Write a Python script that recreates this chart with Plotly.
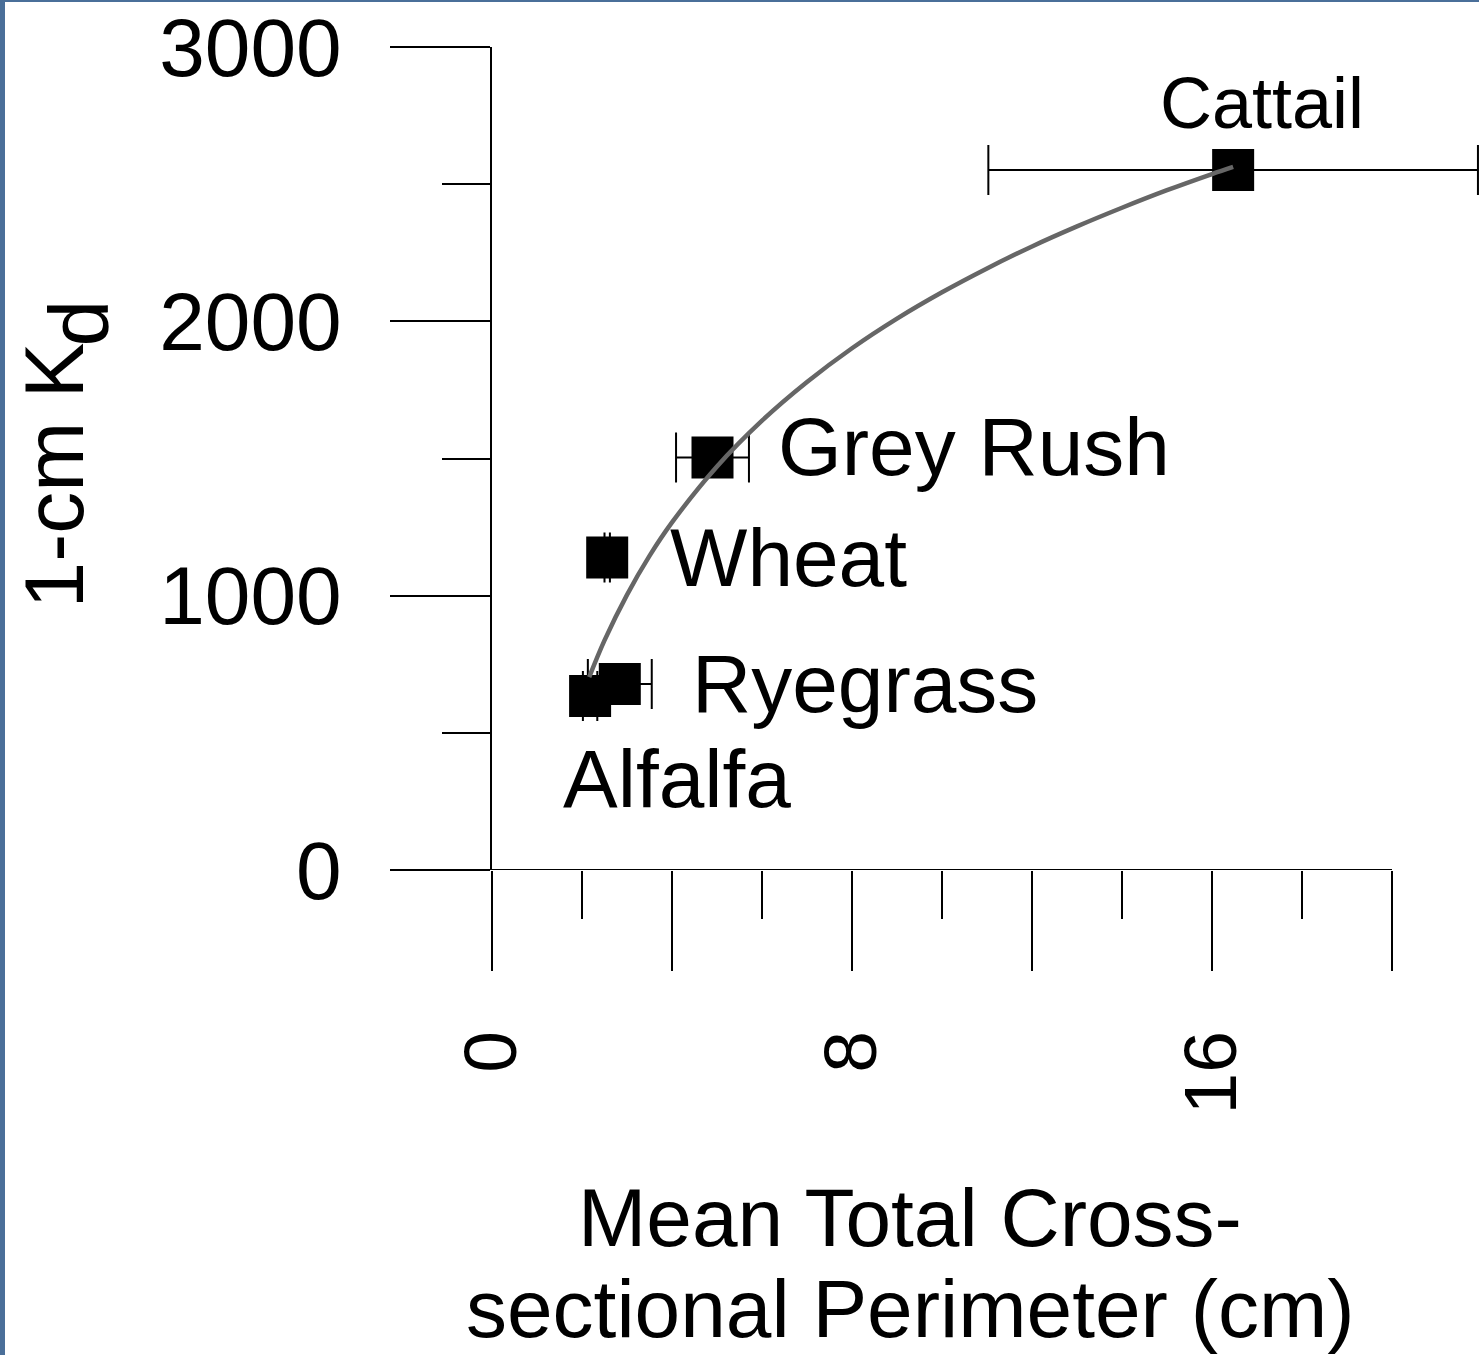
import plotly.graph_objects as go

# ---- data ----
species = ["Cattail", "Grey Rush", "Wheat", "Ryegrass", "Alfalfa"]
perimeter_cm = [16.47, 4.90, 2.56, 2.84, 2.18]
perimeter_err = [5.44, 0.81, 0.06, 0.71, 0.16]
kd_1cm = [2552, 1504, 1139, 678, 634]

# trend curve points
trend_x = [2.16, 2.5, 3.0, 3.5, 4.0, 5.0, 6.0, 7.0, 8.0, 9.0, 10.0, 11.0, 12.0, 13.0, 14.0, 15.0, 16.0, 16.47]
trend_y = [703, 837, 1003, 1145, 1267, 1471, 1638, 1779, 1902, 2010, 2106, 2193, 2273, 2346, 2414, 2478, 2537, 2563]

x_major = [0, 4, 8, 12, 16, 20]
x_major_text = ["0", "", "8", "", "16", ""]
x_minor = [2, 6, 10, 14, 18]
y_major = [0, 1000, 2000, 3000]
y_minor = [500, 1500, 2500]

FONT = "Liberation Sans, Arial, sans-serif"

W, H = 1479, 1355
L, T, B = 492, 47, 870  # plot area pixel edges
XPX = 45.0              # px per x unit
YPX = (B - T) / 3000.0  # px per y unit


def px_x(p):
    return (p - L) / XPX


def px_y(p):
    return (B - p) / YPX


fig = go.Figure()

fig.add_trace(go.Scatter(
    x=perimeter_cm, y=kd_1cm, mode="markers",
    marker=dict(symbol="square", size=42, color="black", line=dict(width=0)),
    error_x=dict(type="data", array=perimeter_err, visible=True,
                 color="black", thickness=2, width=25),
    showlegend=False, hoverinfo="skip",
))

fig.add_trace(go.Scatter(
    x=trend_x, y=trend_y, mode="lines",
    line=dict(color="#666666", width=4.5, shape="spline"),
    showlegend=False, hoverinfo="skip",
))

# data labels
label_pos = {
    "Cattail": (1262, 103, 72),
    "Grey Rush": (974, 446, 82),
    "Wheat": (788, 557, 82),
    "Ryegrass": (865, 683, 82),
    "Alfalfa": (677, 778, 82),
}
annotations = []
for name in species:
    px, py, fs = label_pos[name]
    annotations.append(dict(
        x=px_x(px), y=px_y(py), xref="x", yref="y", text=name, showarrow=False,
        xanchor="center", yanchor="middle", font=dict(family=FONT, size=fs, color="black"),
    ))

# axis titles
annotations.append(dict(
    x=53.5 / W, y=1 - 476 / H, xref="paper", yref="paper", text="1-cm K", showarrow=False,
    textangle=-90, xanchor="center", yanchor="middle",
    font=dict(family=FONT, size=84, color="black"),
))
annotations.append(dict(
    x=78.5 / W, y=1 - 323 / H, xref="paper", yref="paper", text="d", showarrow=False,
    textangle=-90, xanchor="center", yanchor="middle",
    font=dict(family=FONT, size=84, color="black"),
))
annotations.append(dict(
    x=910 / W, y=1 - 1217 / H, xref="paper", yref="paper", text="Mean Total Cross-",
    showarrow=False, xanchor="center", yanchor="middle",
    font=dict(family=FONT, size=82, color="black"),
))
annotations.append(dict(
    x=910 / W, y=1 - 1308 / H, xref="paper", yref="paper", text="sectional Perimeter (cm)",
    showarrow=False, xanchor="center", yanchor="middle",
    font=dict(family=FONT, size=82, color="black"),
))
# convert page fractions to paper coords of the plot area
pw, ph = W - L, B - T
for a in annotations:
    if a.get("xref") == "paper":
        pxx = a["x"] * W
        pyy = (1 - a["y"]) * H
        a["x"] = (pxx - L) / pw
        a["y"] = (B - pyy) / ph

shapes = [
    # x axis line from 0 to 20
    dict(type="line", xref="x", yref="y", x0=0, x1=20, y0=0, y1=0,
         line=dict(color="black", width=2)),
    # blue frame edges of the slide
    dict(type="rect", xref="paper", yref="paper",
         x0=(0 - L) / pw, x1=(5 - L) / pw, y0=(B - H) / ph, y1=(B - 0) / ph,
         fillcolor="#4a6f99", line=dict(width=0), layer="above"),
    dict(type="rect", xref="paper", yref="paper",
         x0=(0 - L) / pw, x1=(W - L) / pw, y0=(B - 2) / ph, y1=(B - 0) / ph,
         fillcolor="#4a6f99", line=dict(width=0), layer="above"),
]

fig.update_layout(
    width=W, height=H,
    margin=dict(l=L, r=0, t=T, b=H - B, pad=0),
    paper_bgcolor="white", plot_bgcolor="white",
    showlegend=False,
    annotations=annotations,
    shapes=shapes,
    xaxis=dict(
        range=[0, (W - L) / XPX], showgrid=False, zeroline=False, showline=False,
        tickmode="array", tickvals=x_major, ticktext=x_major_text,
        ticks="outside", ticklen=100, tickwidth=1.5, tickcolor="black",
        tickangle=-90, ticklabelstandoff=30,
        tickfont=dict(family=FONT, size=75, color="black"),
        minor=dict(tickmode="array", tickvals=x_minor, ticks="outside",
                   ticklen=48, tickwidth=1.5, tickcolor="black", showgrid=False),
        automargin=False, fixedrange=True,
    ),
    yaxis=dict(
        range=[0, 3000], showgrid=False, zeroline=False, showline=True,
        linecolor="black", linewidth=2,
        tickmode="array", tickvals=y_major, ticktext=[str(v) for v in y_major],
        ticks="outside", ticklen=100, tickwidth=1.5, tickcolor="black",
        ticklabelstandoff=32,
        tickfont=dict(family=FONT, size=82, color="black"),
        minor=dict(tickmode="array", tickvals=y_minor, ticks="outside",
                   ticklen=48, tickwidth=1.5, tickcolor="black", showgrid=False),
        automargin=False, fixedrange=True,
    ),
)

fig.write_html("out.html")
